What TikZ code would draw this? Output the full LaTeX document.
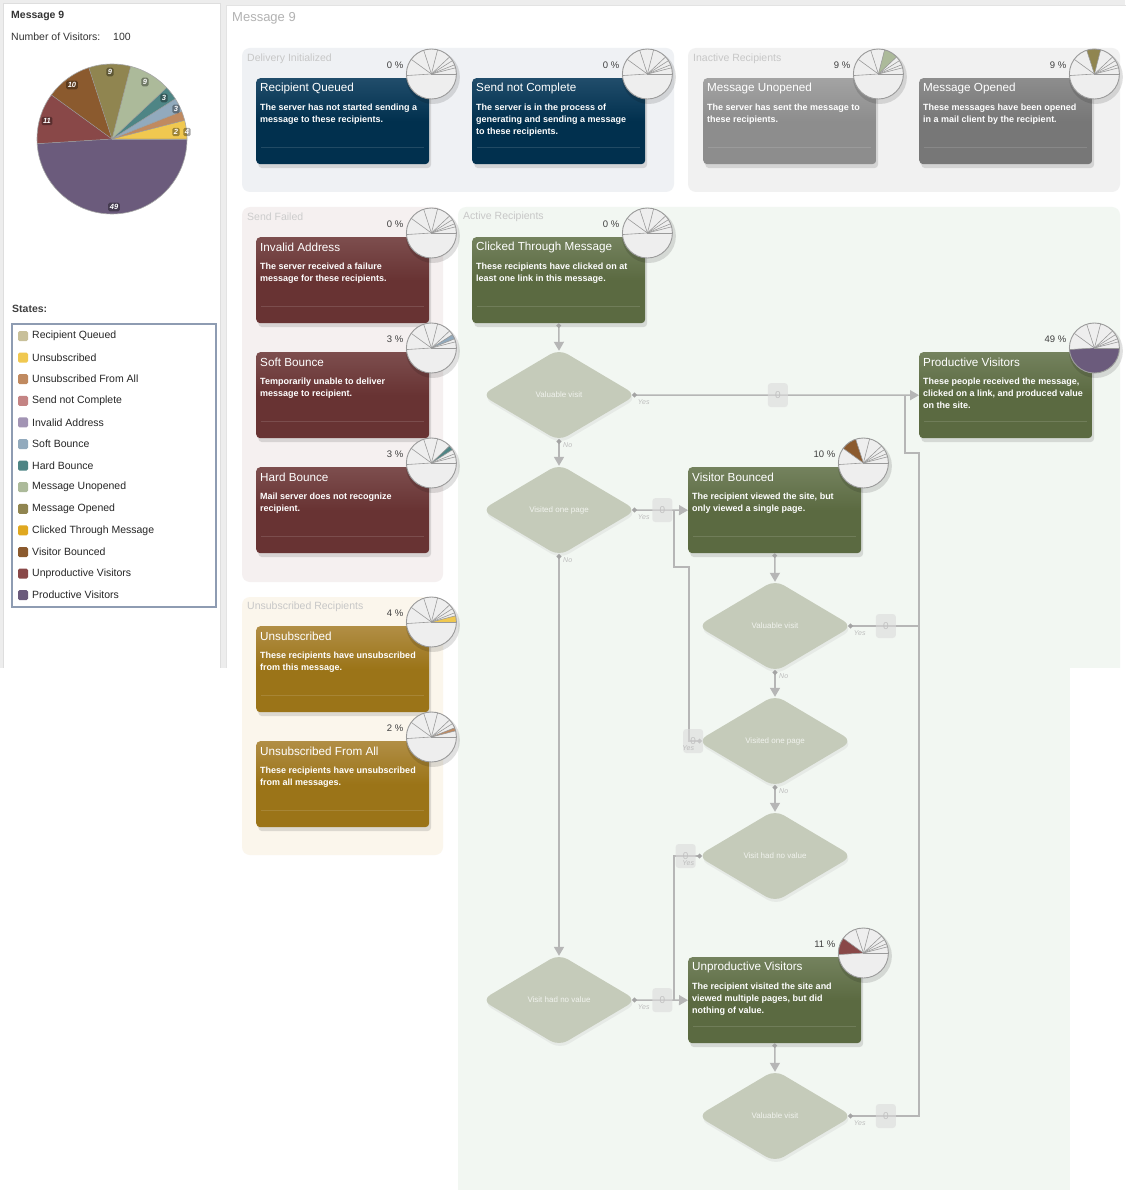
\documentclass[tikz,border=0pt]{standalone}
\usepackage{fontspec}
\setmainfont{Liberation Sans}
\usetikzlibrary{shapes.geometric,arrows.meta,calc,shadows}
\definecolor{bgpanel}{HTML}{EDEDED}
\definecolor{navy}{HTML}{01304E}\definecolor{navyTop}{HTML}{214D6B}
\definecolor{grayA}{HTML}{8D8D8D}\definecolor{grayAtop}{HTML}{A3A3A3}
\definecolor{grayB}{HTML}{777777}\definecolor{grayBtop}{HTML}{8D8D8D}
\definecolor{maroon}{HTML}{683333}\definecolor{maroonTop}{HTML}{7D4E4E}
\definecolor{olive}{HTML}{5B6A41}\definecolor{oliveTop}{HTML}{74825E}
\definecolor{mustard}{HTML}{9B7418}\definecolor{mustardTop}{HTML}{B18E45}
\definecolor{gDel}{HTML}{EFF1F4}\definecolor{gIna}{HTML}{F1F1F1}
\definecolor{gSF}{HTML}{F5F0F0}\definecolor{gAct}{HTML}{F2F7F2}
\definecolor{gUns}{HTML}{FBF6EC}
\definecolor{dfill}{HTML}{C5CBBA}\definecolor{dtext}{HTML}{F1F3EE}
\definecolor{lgray}{HTML}{B6B6B6}\definecolor{dotgray}{HTML}{A4A4A4}
\definecolor{zfill}{HTML}{DCDCDC}\definecolor{ztext}{HTML}{C2C2C2}
\definecolor{ytext}{HTML}{BDBDBD}
\definecolor{piebase}{HTML}{EEEEEE}\definecolor{pieln}{HTML}{9A9A9A}
\definecolor{cRQ}{HTML}{C8C09A}\definecolor{cU}{HTML}{F0C850}
\definecolor{cUA}{HTML}{C08A60}\definecolor{cSNC}{HTML}{C48484}
\definecolor{cIA}{HTML}{A294B4}\definecolor{cSB}{HTML}{92AABD}
\definecolor{cHB}{HTML}{4E8585}\definecolor{cMU}{HTML}{ACBA9A}
\definecolor{cMO}{HTML}{908550}\definecolor{cCTM}{HTML}{E0A820}
\definecolor{cVB}{HTML}{8B5A2E}\definecolor{cUV}{HTML}{894848}
\definecolor{cPV}{HTML}{6B5B7C}
\definecolor{legbd}{HTML}{8E9CB2}
\tikzset{
 card/.style={rectangle, rounded corners=4pt, minimum width=173pt, minimum height=86pt, inner sep=0pt,
   drop shadow={shadow xshift=2pt, shadow yshift=-4pt, opacity=.25}},
 cardtitle/.style={text=white, font=\fontsize{11.7}{13}\selectfont, inner sep=0pt},
 carddesc/.style={text=white, font=\fontsize{9}{12}\selectfont\bfseries, align=left, inner sep=0pt},
 pct/.style={text=black!75, font=\fontsize{9.5}{11}\selectfont, inner sep=0pt},
 grplabel/.style={font=\fontsize{10.5}{12}\selectfont, anchor=west, inner sep=0pt},
 decision/.style={diamond, aspect=1.66, minimum width=155pt, minimum height=92pt, inner sep=0pt,
   rounded corners=10pt, fill=dfill, text=dtext, font=\fontsize{8}{9}\selectfont,
   drop shadow={shadow xshift=1pt, shadow yshift=-3pt, opacity=.1}},
 flow/.style={draw=lgray, line width=1.5pt, arrows={Circle[length=4.5pt,color=dotgray]-Triangle[width=10pt,length=9pt]}},
 flowopen/.style={draw=lgray, line width=1.5pt, arrows={Circle[length=4.5pt,color=dotgray]-}},
 fromside/.style={shorten <=-4.5pt},
 fromtip/.style={shorten <=-2pt},
 intip/.style={shorten >=-2pt},
 zero/.style={rounded corners=3pt, fill=zfill, fill opacity=.6, text opacity=1, text=ztext,
   minimum width=20pt, minimum height=24pt, font=\fontsize{10}{12}\selectfont, inner sep=0pt},
 yes/.style={text=ytext, font=\fontsize{7}{8}\selectfont\itshape, inner sep=0pt},
 pielab/.style={fill=black, fill opacity=.35, text opacity=1, text=white, rounded corners=1.5pt,
   inner sep=1.6pt, font=\fontsize{7.5}{8}\selectfont\bfseries\itshape},
 pieline/.style={draw=pieln, line width=.6pt},
 legsq/.style={rectangle, rounded corners=1.5pt, minimum size=10pt, inner sep=0pt},
 legtxt/.style={font=\fontsize{10.5}{12}\selectfont, text=black!85, inner sep=0pt, anchor=west},
}
\newcommand{\statecard}[8]{%
 \node[card, top color=#5, bottom color=#4, middle color=#4, anchor=north west] (#1) at (#2,#3) {};
 \draw[white, opacity=.13, line width=.6pt] ($(#1.north west)+(5,69)$) -- ($(#1.north east)+(-5,69)$);
 \node[cardtitle, anchor=west] (#1-t) at ($(#1.north west)+(4,10.5)$) {#6};
 \node[carddesc, anchor=north west] (#1-d) at ($(#1.north west)+(4,26)$) {#7};
 \node[pct, anchor=east] (#1-p) at ($(#1.north east)+(-26,-13)$) {#8};
}
\newcommand{\minipie}[4]{%
 \fill[black, opacity=.12] ($(#1.north east)+(3.5,-1)$) circle (27pt);
 \begin{scope}[shift={($(#1.north east)+(2,-4)$)}]
  \fill[piebase] (0,0) circle (25pt);
  \fill[#4] (0,0) -- (#2:25pt) arc[start angle=#2, end angle=#3, radius=25pt] -- cycle;
  \foreach \a in {0,14.4,21.6,32.4,43.2,75.6,108,144,183.6}
   \draw[pieline] (0,0) -- (\a:25pt);
  \draw[pieline, line width=.9pt] (0,0) circle (25pt);
 \end{scope}}
\begin{document}
\begin{tikzpicture}[x=1pt,y=-1pt]
\useasboundingbox (0,0) rectangle (1125,1190);
\fill[white] (0,0) rectangle (1125,1190);
\fill[bgpanel] (0,0) rectangle (1125,668);
\filldraw[fill=white, draw=black!13] (3,3) rectangle (220,690);
\filldraw[fill=white, draw=black!11] (226,5) rectangle (1135,1200);

% ---------- left panel ----------
\node[anchor=west, inner sep=0pt, font=\fontsize{10.5}{12}\selectfont\bfseries, text=black!80] (lt) at (11,16) {Message 9};
\node[anchor=west, inner sep=0pt, font=\fontsize{10.5}{12}\selectfont, text=black!80] (lv) at (11,37) {Number of Visitors:};
\node[anchor=west, inner sep=0pt, font=\fontsize{10.5}{12}\selectfont, text=black!80] (lvn) at (113,37) {100};
\begin{scope}[shift={(112,139)}]
 \foreach \a/\b/\c in {0/14.4/cU, 14.4/21.6/cUA, 21.6/32.4/cSB, 32.4/43.2/cHB, 43.2/75.6/cMU,
   75.6/108/cMO, 108/144/cVB, 144/183.6/cUV, 183.6/360/cPV}
  \fill[\c] (0,0) -- (\a:75pt) arc[start angle=\a, end angle=\b, radius=75pt] -- cycle;
 \foreach \a in {0,14.4,21.6,32.4,43.2,75.6,108,144,183.6}
  \draw[draw=black!40, line width=.5pt] (0,0) -- (\a:75pt);
 \draw[draw=black!35, line width=.6pt] (0,0) circle (75pt);
\end{scope}
\node[pielab] (p49) at (114,207) {49};
\node[pielab] (p11) at (47,121) {11};
\node[pielab] (p10) at (72,85) {10};
\node[pielab] (p9a) at (110,72) {9};
\node[pielab] (p9b) at (145,82) {9};
\node[pielab] (p3a) at (164,98) {3};
\node[pielab] (p3b) at (176,109) {3};
\node[pielab] (p2) at (176,132) {2};
\node[pielab] (p4) at (187,132) {4};

\node[anchor=west, inner sep=0pt, font=\fontsize{10.5}{12}\selectfont\bfseries, text=black!75] (st) at (12,309) {States:};
\draw[legbd, line width=1.2pt] (12,324) rectangle (216,607);
\foreach \t/\c [count=\i from 0] in {Recipient Queued/cRQ, Unsubscribed/cU, Unsubscribed From All/cUA,
  Send not Complete/cSNC, Invalid Address/cIA, Soft Bounce/cSB, Hard Bounce/cHB, Message Unopened/cMU,
  Message Opened/cMO, Clicked Through Message/cCTM, Visitor Bounced/cVB, Unproductive Visitors/cUV,
  Productive Visitors/cPV}{
  \node[legsq, fill=\c] (ls\i) at (23,{336+21.6*\i}) {};
  \node[legtxt] (lg\i) at (32,{336+21.6*\i}) {\t};
}

% ---------- main panel ----------
\node[anchor=west, inner sep=0pt, font=\fontsize{13}{15}\selectfont, text=black!30] (mt) at (232,18) {Message 9};

\fill[gDel, rounded corners=8pt] (242,48) rectangle (674,192);
\fill[gIna, rounded corners=8pt] (688,48) rectangle (1120,192);
\fill[gSF, rounded corners=8pt] (242,207) rectangle (443,582);
\fill[gAct, rounded corners=8pt] (458,207) rectangle (1120,1210);
\fill[gUns, rounded corners=8pt] (242,597) rectangle (443,855);
\node[grplabel, text=black!22] (gl1) at (247,59) {Delivery Initialized};
\node[grplabel, text=black!22] (gl2) at (693,59) {Inactive Recipients};
\node[grplabel, text=black!20] (gl3) at (247,217) {Send Failed};
\node[grplabel, text=black!22] (gl4) at (463,217) {Active Recipients};
\node[grplabel, text=black!22] (gl5) at (247,607) {Unsubscribed Recipients};

% ---------- cards ----------
\statecard{rq}{256}{78}{navy}{navyTop}{Recipient Queued}{The server has not started sending a\\message to these recipients.}{0 \%}
\statecard{snc}{472}{78}{navy}{navyTop}{Send not Complete}{The server is in the process of\\generating and sending a message\\to these recipients.}{0 \%}
\statecard{mu}{703}{78}{grayA}{grayAtop}{Message Unopened}{The server has sent the message to\\these recipients.}{9 \%}
\statecard{mo}{919}{78}{grayB}{grayBtop}{Message Opened}{These messages have been opened\\in a mail client by the recipient.}{9 \%}
\statecard{ia}{256}{237}{maroon}{maroonTop}{Invalid Address}{The server received a failure\\message for these recipients.}{0 \%}
\statecard{sb}{256}{352}{maroon}{maroonTop}{Soft Bounce}{Temporarily unable to deliver\\message to recipient.}{3 \%}
\statecard{hb}{256}{467}{maroon}{maroonTop}{Hard Bounce}{Mail server does not recognize\\recipient.}{3 \%}
\statecard{ctm}{472}{237}{olive}{oliveTop}{Clicked Through Message}{These recipients have clicked on at\\least one link in this message.}{0 \%}
\statecard{pv}{919}{352}{olive}{oliveTop}{Productive Visitors}{These people received the message,\\clicked on a link, and produced value\\on the site.}{49 \%}
\statecard{vb}{688}{467}{olive}{oliveTop}{Visitor Bounced}{The recipient viewed the site, but\\only viewed a single page.}{10 \%}
\statecard{uv}{688}{957}{olive}{oliveTop}{Unproductive Visitors}{The recipient visited the site and\\viewed multiple pages, but did\\nothing of value.}{11 \%}
\statecard{un}{256}{626}{mustard}{mustardTop}{Unsubscribed}{These recipients have unsubscribed\\from this message.}{4 \%}
\statecard{ufa}{256}{741}{mustard}{mustardTop}{Unsubscribed From All}{These recipients have unsubscribed\\from all messages.}{2 \%}

% ---------- decisions ----------
\node[decision] (d1) at (559,395) {Valuable visit};
\node[decision] (d2) at (559,510) {Visited one page};
\node[decision] (d3) at (775,626) {Valuable visit};
\node[decision] (d4) at (775,741) {Visited one page};
\node[decision] (d5) at (775,856) {Visit had no value};
\node[decision] (d6) at (559,1000) {Visit had no value};
\node[decision] (d7) at (775,1116) {Valuable visit};

% ---------- connectors ----------
\coordinate (k1) at (919,626);
\coordinate (k2) at (919,453);
\coordinate (k3) at (905,453);
\coordinate (k4) at (905,395);
\coordinate (m1) at (689,741);
\coordinate (m2) at (689,567);
\coordinate (m3) at (674,567);
\coordinate (m4) at (674,510);
\coordinate (q1) at (674,856);
\coordinate (q2) at (674,1000);
\coordinate (w1) at (919,1116);

\draw[flow, intip] (ctm.south) -- (d1.north);
\draw[flow, fromside] (d1.east) -- node[zero] (z1) {0} (pv.west);
\draw[flow, fromtip, intip] (d1.south) -- (d2.north);
\draw[flow, fromside] (d2.east) -- node[zero] (z2) {0} (vb.west);
\draw[flow, fromtip, intip] (d2.south) -- (d6.north);
\draw[flow, intip] (vb.south) -- (d3.north);
\draw[flowopen, fromside] (d3.east) -- node[zero] (z3) {0} (k1) -- (k2) -- (k3) -- (k4);
\draw[flow, fromtip, intip] (d3.south) -- (d4.north);
\draw[flowopen, fromside] (d4.west) -- node[zero] (z4) {0} (m1) -- (m2) -- (m3) -- (m4);
\draw[flow, fromtip, intip] (d4.south) -- (d5.north);
\draw[flowopen, fromside] (d5.west) -- node[zero] (z5) {0} (q1) -- (q2);
\draw[flow, fromside] (d6.east) -- node[zero] (z6) {0} (uv.west);
\draw[flow, intip] (uv.south) -- (d7.north);
\draw[flowopen, fromside] (d7.east) -- node[zero] (z7) {0} (w1) -- (k1);

\node[yes, anchor=north west] (y1) at ($(d1.east)+(1,4)$) {Yes};
\node[yes, anchor=north west] (y2) at ($(d2.east)+(1,4)$) {Yes};
\node[yes, anchor=north west] (y3) at ($(d3.east)+(1,4)$) {Yes};
\node[yes, anchor=north east] (y4) at ($(d4.west)+(-3,4)$) {Yes};
\node[yes, anchor=north east] (y5) at ($(d5.west)+(-3,4)$) {Yes};
\node[yes, anchor=north west] (y6) at ($(d6.east)+(1,4)$) {Yes};
\node[yes, anchor=north west] (y7) at ($(d7.east)+(1,4)$) {Yes};
\node[yes, anchor=north west] (n1) at ($(d1.south)+(4,1)$) {No};
\node[yes, anchor=north west] (n2) at ($(d2.south)+(4,1)$) {No};
\node[yes, anchor=north west] (n3) at ($(d3.south)+(4,1)$) {No};
\node[yes, anchor=north west] (n4) at ($(d4.south)+(4,1)$) {No};

% ---------- mini pies ----------
\minipie{rq}{0}{0}{piebase}
\minipie{snc}{0}{0}{piebase}
\minipie{mu}{43.2}{75.6}{cMU}
\minipie{mo}{75.6}{108}{cMO}
\minipie{ia}{0}{0}{piebase}
\minipie{sb}{21.6}{32.4}{cSB}
\minipie{hb}{32.4}{43.2}{cHB}
\minipie{ctm}{0}{0}{piebase}
\minipie{pv}{183.6}{360}{cPV}
\minipie{vb}{108}{144}{cVB}
\minipie{uv}{144}{183.6}{cUV}
\minipie{un}{0}{14.4}{cU}
\minipie{ufa}{14.4}{21.6}{cUA}

% ---------- screenshot cut-off ----------
\fill[white] (0,668) rectangle (240,1190);
\fill[white] (1070,668) rectangle (1125,1190);
\end{tikzpicture}
\end{document}
